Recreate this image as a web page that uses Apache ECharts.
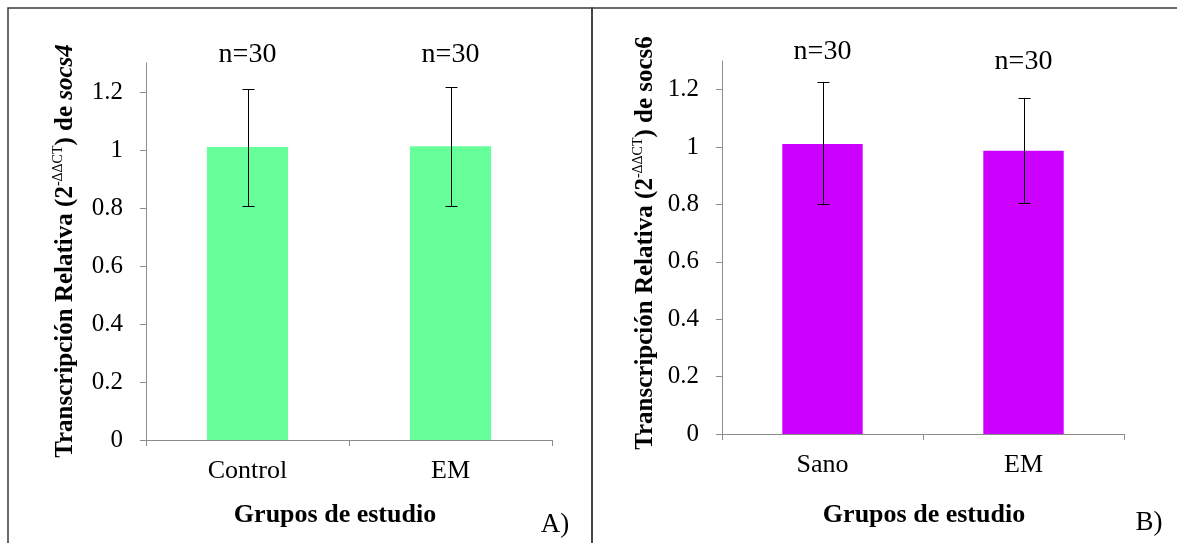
<!DOCTYPE html>
<html><head><meta charset="utf-8">
<script src="https://cdn.jsdelivr.net/npm/echarts@6/dist/echarts.min.js"></script>
<style>html,body{margin:0;padding:0;background:#fff}#c{width:1177px;height:543px}</style>
</head><body><div id="c"></div>
<script>
// Panel A
const categoriesA = ['Control', 'EM'];
const valuesA = [1.01, 1.013];
const errLowA = [0.807, 0.807];
const errHighA = [1.21, 1.217];
const nLabelsA = ['n=30', 'n=30'];
const nLabelValA = [1.33, 1.33];
// Panel B
const categoriesB = ['Sano', 'EM'];
const valuesB = [1.011, 0.987];
const errLowB = [0.802, 0.806];
const errHighB = [1.227, 1.171];
const nLabelsB = ['n=30', 'n=30'];
const nLabelValB = [1.333, 1.297];
// Axis ticks
const yTicks = [0, 0.2, 0.4, 0.6, 0.8, 1, 1.2];
const yMax = 1.3;

const FONT = '"Liberation Serif", "Times New Roman", serif';
const AXIS_COLOR = '#8c8c8c';

const chart = echarts.init(document.getElementById('c'), null, {renderer: 'canvas'});

function errData(low, high) { return low.map((l, i) => [i, l, high[i]]); }
function nData(vals, labels) { return vals.map((v, i) => [i, v, labels[i]]); }

function errRender(params, api) {
  const x = api.value(0);
  const pL = api.coord([x, api.value(1)]);
  const pH = api.coord([x, api.value(2)]);
  const cx = Math.round(pL[0]) + 0.5;
  const hw = 6;
  const st = {stroke: '#000', lineWidth: 1};
  return {type: 'group', children: [
    {type: 'line', shape: {x1: cx, y1: pL[1], x2: cx, y2: pH[1]}, style: st},
    {type: 'line', shape: {x1: cx - hw, y1: Math.round(pH[1]) + 0.5, x2: cx + hw, y2: Math.round(pH[1]) + 0.5}, style: st},
    {type: 'line', shape: {x1: cx - hw, y1: Math.round(pL[1]) + 0.5, x2: cx + hw, y2: Math.round(pL[1]) + 0.5}, style: st}
  ]};
}
function nLabelsFor(si) { return si < 3 ? nLabelsA : nLabelsB; }
function nRender(params, api) {
  const p = api.coord([api.value(0), api.value(1)]);
  return {type: 'text', x: p[0], y: p[1], style: {
    text: nLabelsFor(params.seriesIndex)[params.dataIndex], fill: '#000',
    font: '28px ' + FONT, align: 'center', verticalAlign: 'middle'
  }};
}

function yAxis(gi) {
  return {
    type: 'value', gridIndex: gi, min: 0, max: yMax, interval: 0.2,
    axisLine: {show: true, lineStyle: {color: AXIS_COLOR, width: 1}},
    axisTick: {show: true, length: 6, lineStyle: {color: AXIS_COLOR}, customValues: yTicks},
    axisLabel: {customValues: yTicks, margin: 23, color: '#000', fontSize: 25, fontFamily: FONT},
    splitLine: {show: false}
  };
}
function xAxis(gi, cats) {
  return {
    type: 'category', gridIndex: gi, data: cats,
    axisLine: {show: true, lineStyle: {color: AXIS_COLOR, width: 1}},
    axisTick: {show: true, length: 6, alignWithLabel: false, lineStyle: {color: AXIS_COLOR}},
    axisLabel: {margin: 18, color: '#000', fontSize: 26, fontFamily: FONT}
  };
}

const supRich = {
  b: {fontFamily: FONT, fontSize: 25, fontWeight: 'bold', fill: '#000', lineHeight: 30},
  sup: {fontFamily: FONT, fontSize: 14, fill: '#000', verticalAlign: 'top', lineHeight: 18},
  bi: {fontFamily: FONT, fontSize: 25, fontWeight: 'bold', fontStyle: 'italic', fill: '#000', lineHeight: 30}
};

chart.setOption({
  animation: false,
  backgroundColor: '#fff',
  grid: [
    {left: 146, top: 63, width: 406, height: 377},
    {left: 722, top: 61, width: 402, height: 373}
  ],
  xAxis: [xAxis(0, categoriesA), xAxis(1, categoriesB)],
  yAxis: [yAxis(0), yAxis(1)],
  series: [
    {type: 'bar', xAxisIndex: 0, yAxisIndex: 0, data: valuesA, barWidth: '40%', itemStyle: {color: '#66FF99'}},
    {type: 'custom', xAxisIndex: 0, yAxisIndex: 0, data: errData(errLowA, errHighA), renderItem: errRender, z: 5},
    {type: 'custom', xAxisIndex: 0, yAxisIndex: 0, data: nData(nLabelValA, nLabelsA), renderItem: nRender, clip: false, z: 6},
    {type: 'bar', xAxisIndex: 1, yAxisIndex: 1, data: valuesB, barWidth: '40%', itemStyle: {color: '#CC00FF'}},
    {type: 'custom', xAxisIndex: 1, yAxisIndex: 1, data: errData(errLowB, errHighB), renderItem: errRender, z: 5},
    {type: 'custom', xAxisIndex: 1, yAxisIndex: 1, data: nData(nLabelValB, nLabelsB), renderItem: nRender, clip: false, z: 6}
  ],
  graphic: [
    {type: 'rect', shape: {x: 8, y: 8, width: 584, height: 600}, style: {fill: 'none', stroke: '#3a3a3a', lineWidth: 1.5}, silent: true},
    {type: 'rect', shape: {x: 592, y: 8, width: 600, height: 600}, style: {fill: 'none', stroke: '#3a3a3a', lineWidth: 1.5}, silent: true},
    {type: 'text', x: 66, y: 251, rotation: Math.PI / 2, style: {
      text: '{b|Transcripción Relativa (2}{sup|-ΔΔCT}{b|) de }{bi|socs4}', rich: supRich,
      align: 'center', verticalAlign: 'middle'}},
    {type: 'text', x: 646, y: 243, rotation: Math.PI / 2, style: {
      text: '{b|Transcripción Relativa (2}{sup|-ΔΔCT}{b|) de socs6}', rich: supRich,
      align: 'center', verticalAlign: 'middle'}},
    {type: 'text', x: 335, y: 515, style: {text: 'Grupos de estudio', font: 'bold 26px ' + FONT, fill: '#000', align: 'center', verticalAlign: 'middle'}},
    {type: 'text', x: 924, y: 515, style: {text: 'Grupos de estudio', font: 'bold 26px ' + FONT, fill: '#000', align: 'center', verticalAlign: 'middle'}},
    {type: 'text', x: 555, y: 525, style: {text: 'A)', font: '27px ' + FONT, fill: '#000', align: 'center', verticalAlign: 'middle'}},
    {type: 'text', x: 1149, y: 523, style: {text: 'B)', font: '27px ' + FONT, fill: '#000', align: 'center', verticalAlign: 'middle'}}
  ]
});
</script></body></html>
